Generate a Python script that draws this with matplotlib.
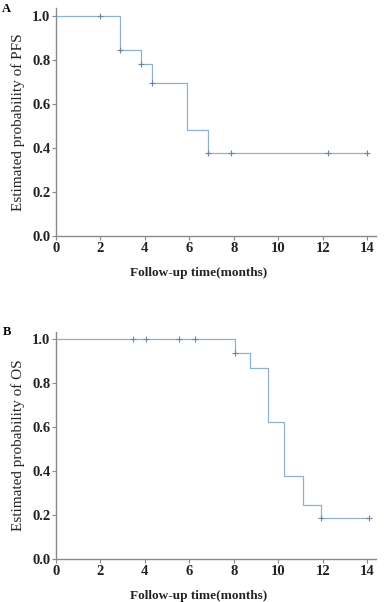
import matplotlib
matplotlib.use("Agg")
import matplotlib.pyplot as plt

plt.rcParams['font.family'] = ['Liberation Serif', 'DejaVu Serif']

# PFS curve (panel A)
pfs_t = [0, 2.86, 3.84, 4.30, 5.89, 6.84, 14.0]
pfs_s = [1.0, 0.846, 0.783, 0.696, 0.483, 0.377, 0.377]
pfs_cens_t = [2.0, 2.86, 3.84, 4.30, 6.84, 7.88, 12.23, 14.0]
pfs_cens_s = [1.0, 0.846, 0.783, 0.696, 0.377, 0.377, 0.377, 0.377]

# OS curve (panel B)
os_t = [0, 8.07, 8.72, 9.52, 10.24, 11.10, 11.93, 14.1]
os_s = [1.0, 0.937, 0.871, 0.623, 0.377, 0.246, 0.188, 0.188]
os_cens_t = [3.45, 4.05, 5.53, 6.24, 8.07, 11.93, 14.1]
os_cens_s = [1.0, 1.0, 1.0, 1.0, 0.937, 0.188, 0.188]

xticks = [0, 2, 4, 6, 8, 10, 12, 14]
yticks = [0.0, 0.2, 0.4, 0.6, 0.8, 1.0]

line_col = '#8fb1d0'
mark_col = '#6a86a3'
axis_col = '#8a8a8a'

fig = plt.figure(figsize=(3.87, 6.02), dpi=100)
axA = fig.add_axes([0.1447, 0.608, 0.827, 0.378])
axB = fig.add_axes([0.1447, 0.0709, 0.827, 0.378])

panels = [(axA, pfs_t, pfs_s, pfs_cens_t, pfs_cens_s, 'Estimated probability of PFS', 'A', 0.995),
          (axB, os_t, os_s, os_cens_t, os_cens_s, 'Estimated probability of OS', 'B', 0.458)]

for ax, t, s, ct, cs, ylab, tag, ty in panels:
    ax.step(t, s, where='post', color=line_col, lw=0.9)
    ax.plot(ct, cs, ls='none', marker='+', ms=4, mew=0.8, color=mark_col)
    ax.set_xlim(0, 14.4)
    ax.set_ylim(0, 1.035)
    ax.set_xticks(xticks)
    ax.set_yticks(yticks)
    ax.set_yticklabels(['%.1f' % v for v in yticks])
    for side in ['top', 'right']:
        ax.spines[side].set_visible(False)
    for side in ['left', 'bottom']:
        ax.spines[side].set_color(axis_col)
        ax.spines[side].set_linewidth(1.0)
    ax.tick_params(axis='both', length=3, width=0.8, color=axis_col,
                   labelsize=10.5, pad=1, labelcolor='#222222')
    for lb in ax.get_xticklabels() + ax.get_yticklabels():
        lb.set_fontweight('bold')
    ax.set_ylabel(ylab, fontsize=11, labelpad=5, color='#222222')
    ax.set_xlabel('Follow-up time(months)', fontsize=9.5, fontweight='bold',
                  labelpad=9, color='#222222', x=0.447)
    fig.text(0.006, ty, tag, fontsize=9, fontweight='bold', ha='left', va='top')

fig.savefig('out.png', dpi=100)
